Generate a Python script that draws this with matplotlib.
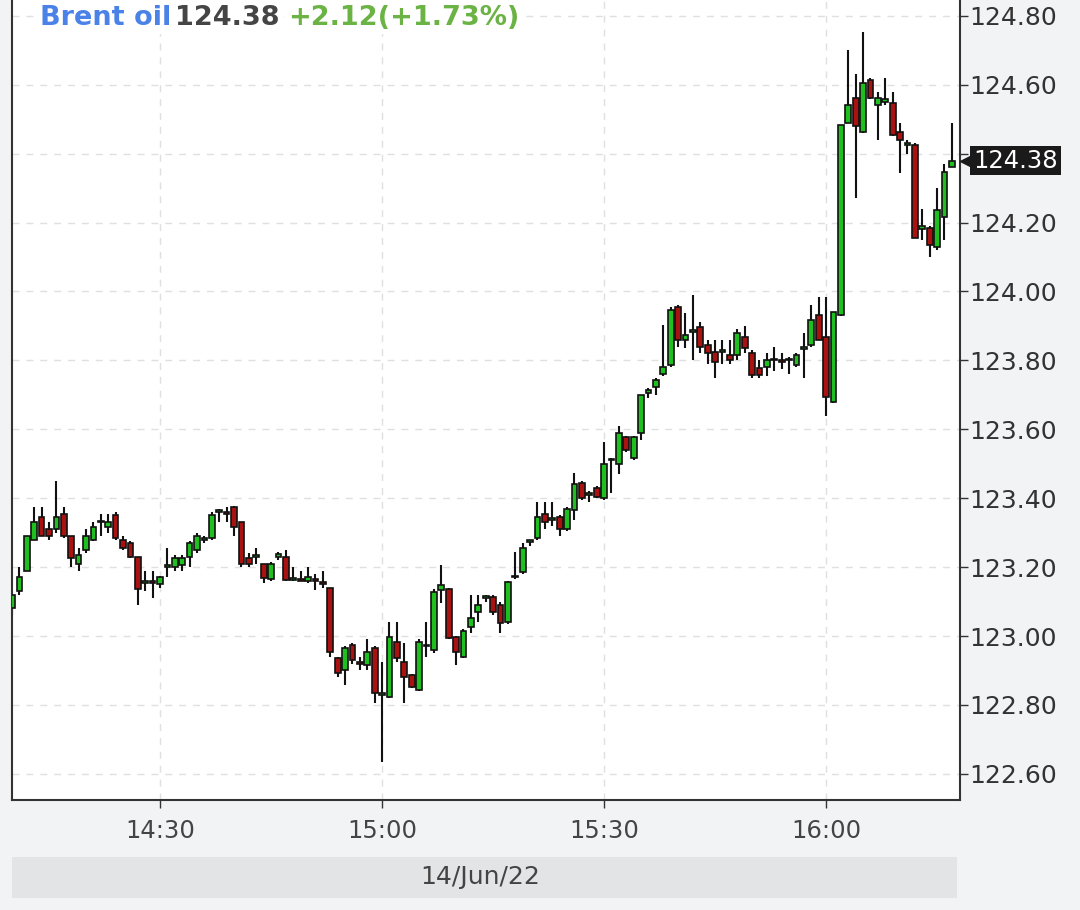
import numpy as np
import matplotlib
matplotlib.use("Agg")
import matplotlib.pyplot as plt
import matplotlib.transforms as mtransforms

plt.rcParams['font.family'] = ['DejaVu Sans']

# one-minute Brent oil candles, 14:10 .. 16:17 on 14/Jun/22 (minutes after 14:00)
minutes = np.arange(10, 138)

opens = [123.08, 123.13, 123.19, 123.28, 123.345, 123.31, 123.31, 123.355, 123.29, 123.21,
         123.25, 123.28, 123.33, 123.317, 123.35, 123.28, 123.27, 123.23, 123.155, 123.16,
         123.15, 123.20, 123.20, 123.205, 123.23, 123.25, 123.28, 123.285, 123.36, 123.36,
         123.375, 123.33, 123.225, 123.23, 123.21, 123.165, 123.228, 123.23, 123.163, 123.165,
         123.16, 123.165, 123.157, 123.14, 122.937, 122.90, 122.974, 122.925, 122.916, 122.965,
         122.83, 122.823, 122.983, 122.925, 122.887, 122.844, 122.97, 122.96, 123.133, 123.137,
         122.997, 122.94, 123.025, 123.07, 123.11, 123.113, 123.09, 123.04, 123.17, 123.186,
         123.273, 123.285, 123.355, 123.337, 123.345, 123.31, 123.366, 123.444, 123.41, 123.43,
         123.40, 123.51, 123.50, 123.578, 123.517, 123.59, 123.705, 123.723, 123.76, 123.787,
         123.955, 123.86, 123.883, 123.897, 123.845, 123.825, 123.825, 123.816, 123.816, 123.868,
         123.82, 123.778, 123.78, 123.80, 123.80, 123.80, 123.787, 123.833, 123.845, 123.932,
         123.868, 123.68, 123.932, 124.49, 124.562, 124.463, 124.614, 124.54, 124.55, 124.548,
         124.463, 124.425, 124.425, 124.18, 124.185, 124.13, 124.217, 124.36]
highs = [123.13, 123.20, 123.29, 123.375, 123.375, 123.33, 123.45, 123.375, 123.29, 123.255,
         123.31, 123.33, 123.355, 123.355, 123.36, 123.29, 123.275, 123.23, 123.19, 123.19,
         123.175, 123.256, 123.235, 123.235, 123.275, 123.30, 123.29, 123.36, 123.37, 123.375,
         123.378, 123.33, 123.24, 123.256, 123.21, 123.215, 123.245, 123.25, 123.20, 123.19,
         123.20, 123.18, 123.19, 123.14, 122.94, 122.97, 122.98, 122.94, 122.99, 122.97,
         122.925, 123.04, 123.04, 122.98, 122.89, 122.99, 123.04, 123.137, 123.206, 123.14,
         123.0, 123.02, 123.12, 123.12, 123.12, 123.12, 123.10, 123.16, 123.244, 123.27,
         123.28, 123.39, 123.39, 123.39, 123.35, 123.375, 123.473, 123.45, 123.42, 123.435,
         123.563, 123.517, 123.61, 123.58, 123.58, 123.70, 123.72, 123.75, 123.903, 123.955,
         123.96, 123.937, 123.99, 123.91, 123.86, 123.86, 123.86, 123.86, 123.89, 123.90,
         123.83, 123.80, 123.82, 123.84, 123.82, 123.81, 123.82, 123.88, 123.96, 123.984,
         123.984, 123.94, 124.484, 124.70, 124.63, 124.754, 124.62, 124.58, 124.62, 124.58,
         124.49, 124.44, 124.43, 124.24, 124.19, 124.30, 124.37, 124.49]
lows = [123.06, 123.12, 123.19, 123.28, 123.29, 123.28, 123.30, 123.285, 123.20, 123.19,
        123.24, 123.275, 123.29, 123.30, 123.28, 123.25, 123.225, 123.09, 123.13, 123.11,
        123.14, 123.17, 123.19, 123.19, 123.20, 123.24, 123.27, 123.28, 123.33, 123.33,
        123.29, 123.20, 123.20, 123.21, 123.155, 123.16, 123.22, 123.16, 123.16, 123.16,
        123.155, 123.133, 123.14, 122.94, 122.88, 122.858, 122.92, 122.90, 122.90, 122.806,
        122.635, 122.82, 122.925, 122.806, 122.85, 122.84, 122.94, 122.95, 123.096, 122.99,
        122.916, 122.935, 123.01, 123.04, 123.10, 123.06, 123.01, 123.035, 123.165, 123.18,
        123.26, 123.28, 123.31, 123.32, 123.29, 123.305, 123.337, 123.395, 123.39, 123.40,
        123.395, 123.415, 123.47, 123.535, 123.51, 123.57, 123.69, 123.70, 123.755, 123.78,
        123.84, 123.836, 123.80, 123.82, 123.79, 123.75, 123.79, 123.79, 123.80, 123.82,
        123.75, 123.75, 123.755, 123.77, 123.775, 123.76, 123.78, 123.75, 123.84, 123.86,
        123.64, 123.675, 123.93, 124.49, 124.27, 124.46, 124.56, 124.44, 124.54, 124.45,
        124.344, 124.40, 124.155, 124.15, 124.10, 124.12, 124.15, 124.36]
closes = [123.12, 123.17, 123.29, 123.33, 123.29, 123.29, 123.345, 123.29, 123.225, 123.235,
          123.29, 123.315, 123.332, 123.33, 123.285, 123.256, 123.23, 123.135, 123.157, 123.158,
          123.17, 123.202, 123.227, 123.225, 123.27, 123.29, 123.282, 123.35, 123.362, 123.358,
          123.317, 123.21, 123.21, 123.232, 123.168, 123.21, 123.238, 123.163, 123.165, 123.163,
          123.17, 123.163, 123.155, 122.955, 122.893, 122.965, 122.93, 122.923, 122.955, 122.835,
          122.832, 122.997, 122.936, 122.88, 122.853, 122.983, 122.972, 123.128, 123.148, 122.994,
          122.954, 123.015, 123.053, 123.09, 123.112, 123.07, 123.037, 123.157, 123.172, 123.256,
          123.275, 123.345, 123.33, 123.339, 123.31, 123.37, 123.44, 123.40, 123.412, 123.404,
          123.50, 123.512, 123.59, 123.54, 123.578, 123.70, 123.714, 123.743, 123.78, 123.947,
          123.86, 123.874, 123.885, 123.84, 123.82, 123.795, 123.827, 123.80, 123.88, 123.836,
          123.757, 123.757, 123.80, 123.802, 123.798, 123.802, 123.816, 123.835, 123.917, 123.86,
          123.694, 123.94, 124.484, 124.54, 124.48, 124.605, 124.562, 124.562, 124.56, 124.454,
          124.44, 124.427, 124.155, 124.19, 124.135, 124.237, 124.347, 124.38]

y_ticks = [122.60, 122.80, 123.00, 123.20, 123.40, 123.60, 123.80, 124.00,
           124.20, 124.40, 124.60, 124.80]
x_ticks = [30, 60, 90, 120]
x_labels = ['14:30', '15:00', '15:30', '16:00']
last_price = 124.38
date_label = '14/Jun/22'

up_col = '#1fbf1f'
down_col = '#a81210'
bg = '#f2f3f5'

fig = plt.figure(figsize=(10.8, 9.1), dpi=100, facecolor=bg)
ax = fig.add_axes([12/1080, 1 - 800/910, 948/1080, 800/910])
ax.set_facecolor('white')

o = np.array(opens); c = np.array(closes)
h = np.array(highs); l = np.array(lows)
body = c - o
body = np.where(np.abs(body) < 0.005, np.where(body >= 0, 0.005, -0.005), body)
cols = np.where(c >= o, up_col, down_col)

ax.vlines(minutes, l, h, color='#111111', lw=1.5, zorder=2)
ax.bar(minutes, body, bottom=o, width=0.78, color=cols, edgecolor='#111111',
       linewidth=1.2, zorder=3)

ax.set_xlim(10.0, 138.1)
ax.set_ylim(122.524, 124.846)

ax.set_yticks(y_ticks)
ax.set_yticklabels(['' if abs(v - 124.40) < 1e-6 else f'{v:.2f}' for v in y_ticks])
ax.set_xticks(x_ticks)
ax.set_xticklabels(x_labels)
ax.yaxis.tick_right()
ax.tick_params(axis='y', length=6, width=1, color='#333333', labelcolor='#333333',
               labelsize=18, pad=1)
ax.tick_params(axis='x', length=6, width=1, color='#333333', labelcolor='#444444',
               labelsize=17.5, pad=8)

ax.grid(True, color='#e0e0e0', lw=1, ls=(0, (5, 5)))
ax.set_axisbelow(True)
for s in ['left', 'right', 'bottom']:
    ax.spines[s].set_color('#333333')
    ax.spines[s].set_linewidth(1.5)
ax.spines['top'].set_visible(False)

# title line
t1 = ax.text(28/948, 1 - 18/800, 'Brent oil', transform=ax.transAxes, va='center',
             ha='left', fontsize=19.5, fontweight='bold', color='#4a82e8',
             bbox=dict(fc='white', ec='none', pad=2), zorder=6)
t2 = ax.annotate(f'{last_price:.2f}', xy=(1, 0.5), xycoords=t1, xytext=(3, 0),
                 textcoords='offset points', va='center', fontsize=19.5,
                 fontweight='bold', color='#454545',
                 bbox=dict(fc='white', ec='none', pad=2), zorder=6)
ax.annotate('+2.12(+1.73%)', xy=(1, 0.5), xycoords=t2, xytext=(6, 0),
            textcoords='offset points', va='center', fontsize=19.5,
            fontweight='bold', color='#6ab344',
            bbox=dict(fc='white', ec='none', pad=2), zorder=6)

# last price tag on the right axis
trans = mtransforms.blended_transform_factory(ax.transAxes, ax.transData)
ax.plot([1.0 + 6/948], [last_price], marker='<', ms=9, color='#1a1a1a',
        transform=trans, clip_on=False, zorder=7)
ax.text(1.0 + 13/948, last_price, f'{last_price:.2f}', transform=trans, va='center',
        ha='left', fontsize=17.5, color='white', zorder=8,
        bbox=dict(fc='#1a1a1a', ec='none', boxstyle='square,pad=0.12'))

# date band under the axis
fig.patches.append(plt.Rectangle((12/1080, 1 - 898/910), 945/1080, 41/910,
                                 transform=fig.transFigure, fc='#e3e4e6', ec='none'))
fig.text(480/1080, 1 - 877/910, date_label, ha='center', va='center', fontsize=18,
         color='#444444')

fig.savefig('out.png', dpi=100, facecolor=bg)
